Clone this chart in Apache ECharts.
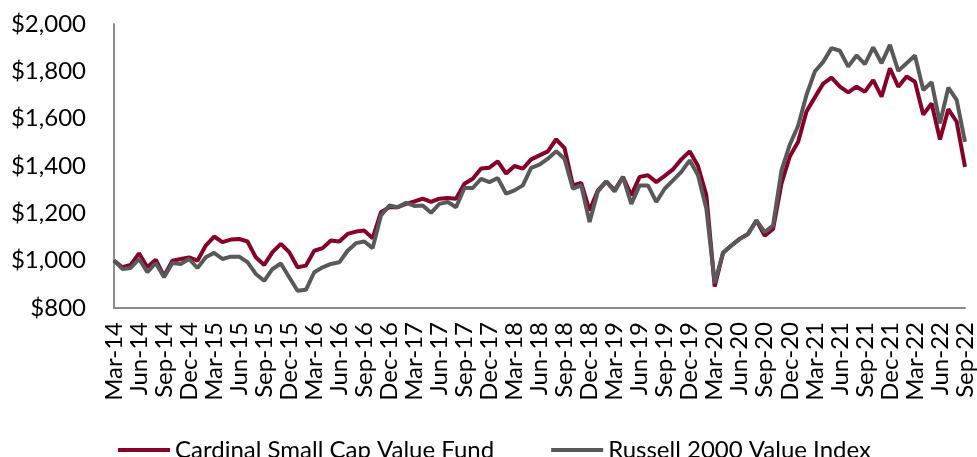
<!DOCTYPE html>
<html>
<head>
<meta charset="utf-8">
<script src="https://cdn.jsdelivr.net/npm/echarts@6/dist/echarts.min.js"></script>
<style>
  html, body { margin: 0; padding: 0; background: #fff; }
  #chart { width: 977px; height: 457px; }
</style>
</head>
<body>
<div id="chart"></div>
<script>
// month names used for the category axis, Mar-14 .. Sep-22
const monthNames = ["Jan", "Feb", "Mar", "Apr", "May", "Jun", "Jul", "Aug", "Sep", "Oct", "Nov", "Dec"];
const categories = [];
for (let y = 14; y <= 22; y++) {
  for (let m = 0; m < 12; m++) {
    if (y === 14 && m < 2) continue;
    if (y === 22 && m > 8) continue;
    categories.push(monthNames[m] + "-" + y);
  }
}

const cardinalFund = [
  1000, 972, 982, 1031, 972, 1004, 935, 1000, 1007, 1014, 1000, 1064, 1102, 1078, 1089, 1092, 1081, 1014, 982, 1036, 1071,
  1036, 972, 979, 1042, 1053, 1085, 1081, 1113, 1123, 1127, 1095, 1205, 1226, 1226, 1240, 1250, 1262, 1248, 1262, 1265,
  1262, 1325, 1346, 1389, 1393, 1420, 1368, 1400, 1389, 1428, 1445, 1462, 1513, 1476, 1318, 1329, 1212, 1297, 1335, 1297,
  1354, 1276, 1354, 1361, 1332, 1358, 1386, 1428, 1462, 1400, 1276, 891, 1033, 1064, 1092, 1113, 1170, 1105, 1134,
  1325, 1440, 1502, 1630, 1690, 1748, 1773, 1735, 1711, 1735, 1714, 1763, 1693, 1813, 1735, 1778, 1756, 1617, 1664, 1512, 1640, 1587, 1396
];

const russellIndex = [
  1000, 965, 969, 1007, 951, 990, 930, 990, 986, 1007, 969, 1014, 1033, 1007, 1017, 1017, 994, 944, 915, 965, 988,
  930, 873, 877, 951, 972, 986, 993, 1042, 1074, 1081, 1053, 1191, 1233, 1226, 1245, 1231, 1233, 1202, 1240, 1248,
  1226, 1307, 1307, 1346, 1332, 1349, 1283, 1297, 1318, 1392, 1406, 1431, 1462, 1431, 1304, 1318, 1163, 1292, 1335, 1292,
  1354, 1240, 1318, 1318, 1248, 1304, 1339, 1375, 1424, 1361, 1219, 905, 1033, 1064, 1092, 1113, 1170, 1120, 1150,
  1380, 1490, 1570, 1700, 1799, 1840, 1898, 1887, 1820, 1867, 1830, 1901, 1834, 1912, 1802, 1834, 1867, 1721, 1754, 1580, 1731, 1679, 1502
];

const seriesNames = ["Cardinal Small Cap Value Fund", "Russell 2000 Value Index"];

const fontFamily = "Lato, 'Open Sans', sans-serif";
const axisLine = {
  show: true,
  lineStyle: { color: "#8c8c8c", width: 2 }
};

const chart = echarts.init(document.getElementById("chart"));
chart.setOption({
  animation: false,
  backgroundColor: "#fff",
  color: ["#870027", "#595959"],
  textStyle: { fontFamily: fontFamily },
  grid: { left: 114, right: 9, top: 24, bottom: 149, containLabel: false },
  legend: {
    data: seriesNames,
    left: 113,
    top: 433,
    itemWidth: 52,
    itemHeight: 4,
    itemGap: 57,
    icon: "rect",
    textStyle: { fontSize: 24, color: "#000", fontFamily: fontFamily }
  },
  xAxis: {
    type: "category",
    boundaryGap: false,
    data: categories,
    axisLine: axisLine,
    axisTick: { show: false },
    axisLabel: {
      interval: 2,
      rotate: 90,
      margin: 14,
      fontSize: 24,
      color: "#000",
      fontFamily: fontFamily
    }
  },
  yAxis: {
    type: "value",
    min: 800,
    max: 2000,
    interval: 200,
    axisLine: axisLine,
    axisTick: { show: false },
    splitLine: { show: false },
    axisLabel: {
      margin: 28,
      fontSize: 24,
      color: "#000",
      fontFamily: fontFamily,
      formatter: v => "$" + v.toLocaleString("en-US")
    }
  },
  series: [
    {
      name: seriesNames[0],
      type: "line",
      data: cardinalFund,
      showSymbol: false,
      lineStyle: { width: 4 }
    },
    {
      name: seriesNames[1],
      type: "line",
      data: russellIndex,
      showSymbol: false,
      lineStyle: { width: 4 }
    }
  ]
});
</script>
</body>
</html>
